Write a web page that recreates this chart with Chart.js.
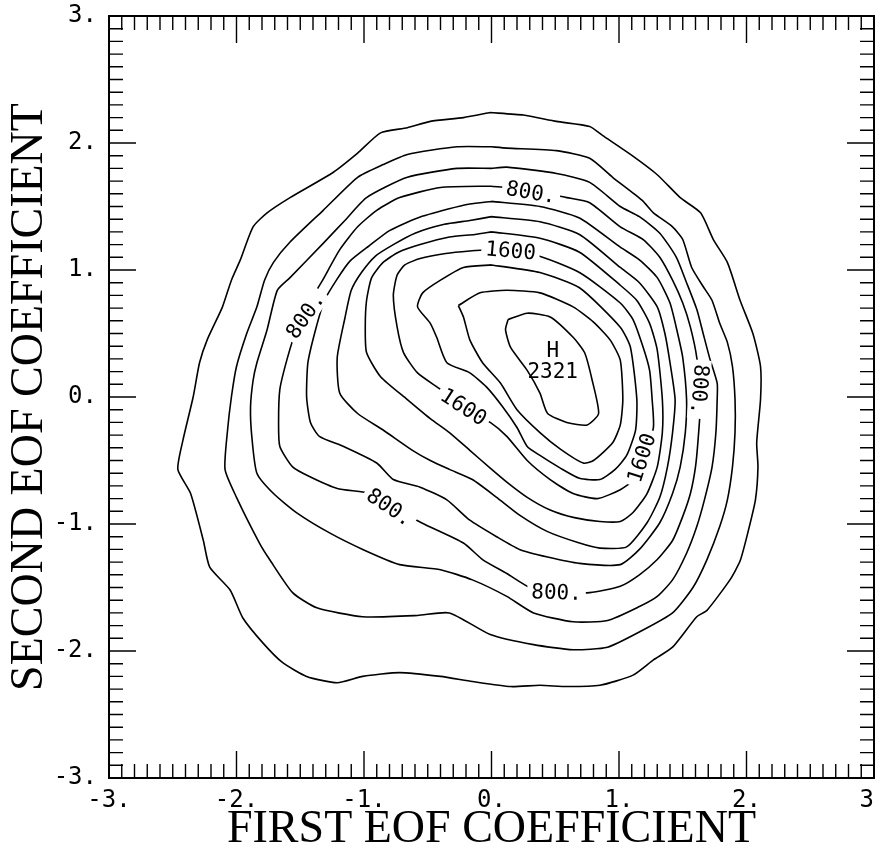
<!DOCTYPE html>
<html>
<head>
<meta charset="utf-8">
<script src="https://cdn.jsdelivr.net/npm/chart.js@4.4.0/dist/chart.umd.min.js"></script>
<style>
  body { margin: 0; background: #fff; }
</style>
</head>
<body>
<canvas id="myChart" width="876" height="861"></canvas>
<script>
// contour levels, outermost first
const levels = [200, 400, 600, 800, 1000, 1200, 1400, 1600, 1800, 2000, 2200];

// each contour is a closed ring of [first EOF, second EOF] points
const c200 = [[-0.01,2.24],[0.25,2.22],[0.51,2.17],[0.77,2.13],[0.87,2.06],[1.09,1.91],[1.30,1.75],[1.48,1.57],[1.64,1.45],[1.74,1.24],[1.85,1.06],[1.95,0.76],[2.05,0.50],[2.11,0.24],[2.11,-0.02],[2.08,-0.36],[2.09,-0.55],[2.07,-0.81],[2.01,-1.07],[1.95,-1.29],[1.87,-1.44],[1.69,-1.68],[1.61,-1.73],[1.42,-1.97],[1.27,-2.07],[1.11,-2.19],[0.85,-2.27],[0.59,-2.28],[0.38,-2.27],[0.15,-2.28],[-0.15,-2.24],[-0.40,-2.20],[-0.72,-2.17],[-1.01,-2.20],[-1.21,-2.25],[-1.45,-2.20],[-1.64,-2.09],[-1.79,-1.94],[-1.95,-1.74],[-2.05,-1.52],[-2.21,-1.34],[-2.26,-1.13],[-2.36,-0.76],[-2.46,-0.57],[-2.42,-0.34],[-2.34,0.00],[-2.29,0.27],[-2.23,0.45],[-2.11,0.71],[-2.04,0.92],[-1.97,1.08],[-1.87,1.34],[-1.76,1.45],[-1.58,1.57],[-1.24,1.77],[-1.05,1.92],[-0.87,2.08],[-0.66,2.12],[-0.48,2.17],[-0.22,2.20]];
const c400 = [[0.00,1.97],[0.12,1.96],[0.51,1.94],[0.77,1.88],[0.95,1.73],[1.18,1.55],[1.27,1.45],[1.42,1.34],[1.50,1.24],[1.57,1.02],[1.66,0.87],[1.73,0.76],[1.79,0.58],[1.85,0.43],[1.89,0.24],[1.91,-0.02],[1.91,-0.28],[1.89,-0.55],[1.85,-0.81],[1.79,-1.02],[1.69,-1.28],[1.58,-1.50],[1.42,-1.70],[1.16,-1.85],[0.91,-1.97],[0.64,-1.99],[0.33,-1.95],[-0.01,-1.87],[-0.33,-1.70],[-0.58,-1.72],[-1.01,-1.73],[-1.37,-1.66],[-1.56,-1.54],[-1.74,-1.28],[-1.82,-1.15],[-2.00,-0.79],[-2.09,-0.57],[-2.07,-0.26],[-2.04,0.00],[-2.00,0.24],[-1.92,0.50],[-1.84,0.71],[-1.78,0.92],[-1.71,1.06],[-1.58,1.22],[-1.32,1.47],[-1.05,1.73],[-0.85,1.83],[-0.66,1.91],[-0.27,1.97]];
const c600 = [[0.00,1.80],[0.12,1.81],[0.51,1.76],[0.77,1.69],[1.01,1.50],[1.16,1.42],[1.32,1.29],[1.45,1.10],[1.53,0.90],[1.61,0.69],[1.66,0.50],[1.71,0.31],[1.77,0.11],[1.77,-0.02],[1.76,-0.28],[1.73,-0.55],[1.67,-0.81],[1.61,-1.02],[1.53,-1.23],[1.42,-1.44],[1.30,-1.57],[1.16,-1.65],[0.91,-1.76],[0.64,-1.77],[0.33,-1.70],[0.12,-1.57],[-0.15,-1.44],[-0.40,-1.36],[-0.72,-1.32],[-1.01,-1.20],[-1.27,-1.07],[-1.53,-0.91],[-1.71,-0.76],[-1.84,-0.60],[-1.88,-0.31],[-1.89,-0.08],[-1.87,0.13],[-1.84,0.27],[-1.76,0.53],[-1.68,0.84],[-1.58,0.94],[-1.32,1.21],[-1.15,1.39],[-0.98,1.57],[-0.66,1.73],[-0.27,1.80]];
const c800 = [[0.00,1.66],[0.30,1.63],[0.59,1.57],[0.77,1.53],[1.01,1.34],[1.19,1.24],[1.32,1.10],[1.42,0.92],[1.50,0.74],[1.56,0.55],[1.61,0.31],[1.64,-0.02],[1.62,-0.34],[1.60,-0.55],[1.56,-0.76],[1.50,-0.94],[1.42,-1.13],[1.30,-1.28],[1.16,-1.40],[1.01,-1.49],[0.77,-1.54],[0.50,-1.54],[0.30,-1.50],[0.12,-1.39],[-0.07,-1.28],[-0.22,-1.15],[-0.55,-0.99],[-0.80,-0.85],[-0.95,-0.76],[-1.21,-0.72],[-1.42,-0.63],[-1.56,-0.55],[-1.66,-0.39],[-1.67,-0.20],[-1.66,0.06],[-1.60,0.31],[-1.53,0.53],[-1.42,0.76],[-1.33,0.91],[-1.19,1.16],[-1.05,1.34],[-0.90,1.47],[-0.72,1.57],[-0.40,1.65]];
const c1000 = [[0.00,1.54],[0.38,1.50],[0.69,1.41],[1.01,1.18],[1.16,1.08],[1.30,0.94],[1.40,0.74],[1.46,0.50],[1.50,0.31],[1.53,-0.02],[1.52,-0.28],[1.48,-0.55],[1.42,-0.76],[1.32,-0.99],[1.16,-1.20],[1.01,-1.32],[0.69,-1.31],[0.44,-1.26],[0.22,-1.20],[0.04,-1.10],[-0.17,-0.97],[-0.35,-0.81],[-0.56,-0.71],[-0.77,-0.65],[-0.90,-0.52],[-1.16,-0.39],[-1.35,-0.31],[-1.42,-0.20],[-1.45,0.00],[-1.44,0.27],[-1.38,0.53],[-1.31,0.76],[-1.21,0.93],[-1.11,1.07],[-0.96,1.19],[-0.80,1.31],[-0.58,1.41],[-0.34,1.48],[-0.17,1.52]];
const c1200 = [[0.00,1.42],[0.38,1.38],[0.69,1.28],[1.01,1.02],[1.16,0.90],[1.30,0.71],[1.36,0.50],[1.40,0.27],[1.44,-0.02],[1.42,-0.28],[1.38,-0.55],[1.32,-0.79],[1.22,-0.99],[1.06,-1.18],[0.85,-1.19],[0.69,-1.15],[0.44,-1.06],[0.22,-0.93],[0.04,-0.79],[-0.15,-0.65],[-0.33,-0.57],[-0.48,-0.50],[-0.62,-0.42],[-0.85,-0.26],[-1.05,-0.13],[-1.19,0.03],[-1.21,0.31],[-1.15,0.62],[-1.10,0.84],[-1.02,0.98],[-0.91,1.11],[-0.77,1.20],[-0.60,1.29],[-0.37,1.36],[-0.17,1.39]];
const c1400 = [[0.00,1.30],[0.38,1.25],[0.69,1.14],[1.01,0.88],[1.14,0.76],[1.24,0.58],[1.30,0.37],[1.34,-0.02],[1.34,-0.28],[1.30,-0.55],[1.22,-0.76],[1.11,-0.91],[1.01,-0.98],[0.85,-0.98],[0.65,-0.95],[0.46,-0.89],[0.28,-0.79],[0.12,-0.67],[-0.01,-0.56],[-0.17,-0.42],[-0.33,-0.28],[-0.48,-0.17],[-0.66,-0.02],[-0.87,0.16],[-0.98,0.35],[-0.99,0.55],[-0.98,0.76],[-0.94,0.94],[-0.85,1.06],[-0.73,1.14],[-0.56,1.20],[-0.33,1.26],[-0.13,1.28]];
const c1600 = [[0.00,1.16],[0.34,1.12],[0.69,0.98],[1.01,0.74],[1.11,0.61],[1.19,0.39],[1.24,0.21],[1.26,-0.02],[1.27,-0.24],[1.20,-0.46],[1.13,-0.64],[1.01,-0.73],[0.83,-0.80],[0.64,-0.76],[0.46,-0.65],[0.28,-0.50],[0.12,-0.31],[-0.01,-0.20],[-0.21,-0.09],[-0.40,0.06],[-0.58,0.19],[-0.69,0.35],[-0.74,0.55],[-0.77,0.80],[-0.74,0.96],[-0.68,1.04],[-0.56,1.09],[-0.36,1.13],[-0.17,1.15]];
const c1800 = [[0.00,1.04],[0.38,0.98],[0.69,0.86],[1.01,0.55],[1.09,0.39],[1.14,-0.02],[1.13,-0.26],[1.06,-0.46],[0.97,-0.57],[0.85,-0.65],[0.69,-0.64],[0.54,-0.56],[0.38,-0.46],[0.28,-0.39],[0.20,-0.24],[0.09,-0.08],[-0.04,0.08],[-0.17,0.19],[-0.35,0.27],[-0.43,0.47],[-0.48,0.58],[-0.58,0.71],[-0.54,0.82],[-0.40,0.92],[-0.22,1.02]];
const c2000 = [[-0.26,0.72],[-0.22,0.63],[-0.17,0.45],[-0.07,0.27],[0.07,0.11],[0.20,-0.10],[0.38,-0.28],[0.54,-0.41],[0.72,-0.52],[0.80,-0.50],[0.95,-0.36],[1.01,-0.22],[1.03,-0.02],[1.01,0.29],[0.93,0.45],[0.80,0.59],[0.64,0.71],[0.38,0.82],[0.12,0.84],[-0.09,0.82]];
const c2200 = [[0.13,0.61],[0.28,0.66],[0.46,0.63],[0.64,0.47],[0.73,0.35],[0.79,0.13],[0.84,-0.13],[0.75,-0.22],[0.59,-0.20],[0.44,-0.13],[0.38,0.03],[0.28,0.21],[0.15,0.39],[0.11,0.53]];
const contours = [c200, c400, c600, c800, c1000, c1200, c1400, c1600, c1800, c2000, c2200];

const tickValues = [-3, -2, -1, 0, 1, 2, 3];

// in-line contour labels (data position, angle in degrees)
const contourLabels = [
    { text: '800.', x: 0.31, y: 1.61, angle: 10 },
    { text: '800.', x: -1.46, y: 0.64, angle: -55 },
    { text: '800.', x: -0.80, y: -0.87, angle: 34 },
    { text: '800.', x: 0.51, y: -1.54, angle: 2 },
    { text: '800.', x: 1.63, y: 0.06, angle: 95 },
    { text: '1600', x: 0.15, y: 1.15, angle: 5 },
    { text: '1600', x: -0.22, y: -0.08, angle: 33 },
    { text: '1600', x: 1.18, y: -0.48, angle: -72 }
];
const peakLabels = [
    { text: 'H', x: 0.48, y: 0.36 },
    { text: '2321', x: 0.48, y: 0.19 }
];

const labelFont = '21px "DejaVu Sans Mono"';

const frameAndLabels = {
    id: 'frameAndLabels',
    afterDatasetsDraw(chart) {
        const {ctx, chartArea: a, scales: {x, y}} = chart;
        ctx.save();
        ctx.font = labelFont;
        ctx.textAlign = 'center';
        ctx.textBaseline = 'middle';
        contourLabels.forEach(l => {
            const w = ctx.measureText(l.text).width;
            ctx.save();
            ctx.translate(x.getPixelForValue(l.x), y.getPixelForValue(l.y));
            ctx.rotate(l.angle * Math.PI / 180);
            ctx.fillStyle = '#fff';
            ctx.fillRect(-w / 2 - 4, -10, w + 8, 20);
            ctx.fillStyle = '#000';
            ctx.fillText(l.text, 0, 1);
            ctx.restore();
        });
        ctx.fillStyle = '#000';
        peakLabels.forEach(l => {
            ctx.fillText(l.text, x.getPixelForValue(l.x), y.getPixelForValue(l.y));
        });

        // frame with inward ticks every 0.1
        ctx.strokeStyle = '#000';
        ctx.lineWidth = 2;
        ctx.strokeRect(a.left, a.top, a.right - a.left, a.bottom - a.top);
        ctx.lineWidth = 1.4;
        ctx.beginPath();
        for (let i = -30; i <= 30; i++) {
            const len = i % 10 === 0 ? 27 : 14;
            const px = x.getPixelForValue(i / 10);
            const py = y.getPixelForValue(i / 10);
            ctx.moveTo(px, a.bottom); ctx.lineTo(px, a.bottom - len);
            ctx.moveTo(px, a.top); ctx.lineTo(px, a.top + len);
            ctx.moveTo(a.left, py); ctx.lineTo(a.left + len, py);
            ctx.moveTo(a.right, py); ctx.lineTo(a.right - len, py);
        }
        ctx.stroke();
        ctx.restore();
    }
};

const tickFont = { family: 'DejaVu Sans Mono', size: 24 };
const titleFont = { family: 'Liberation Serif', size: 46 };

const config = {
    type: 'scatter',
    data: {
        datasets: contours.map((pts, i) => ({
            label: String(levels[i]),
            data: pts.concat([pts[0]]).map(p => ({ x: p[0], y: p[1] })),
            showLine: true,
            tension: 0.2,
            borderColor: '#000',
            borderWidth: 1.6,
            pointRadius: 0,
            fill: false
        }))
    },
    options: {
        responsive: false,
        animation: false,
        devicePixelRatio: 1,
        layout: { padding: { top: 16, right: 2, left: 0, bottom: 0 } },
        plugins: { legend: { display: false }, tooltip: { enabled: false } },
        scales: {
            x: {
                type: 'linear', min: -3, max: 3,
                afterBuildTicks: s => { s.ticks = tickValues.map(v => ({ value: v })); },
                grid: { display: false, drawTicks: false },
                border: { display: false },
                ticks: { callback: v => v + '.', font: tickFont, color: '#000', padding: 8, maxRotation: 0, autoSkip: false },
                title: { display: true, text: 'FIRST EOF COEFFICIENT', font: titleFont, color: '#000', padding: { top: 0, bottom: 3 } },
                afterFit(s) { s.height = 83; s.paddingLeft = 0; s.paddingRight = 0; }
            },
            y: {
                type: 'linear', min: -3, max: 3,
                afterBuildTicks: s => { s.ticks = tickValues.map(v => ({ value: v })); },
                grid: { display: false, drawTicks: false },
                border: { display: false },
                ticks: { callback: v => v + '.', font: tickFont, color: '#000', padding: 12, autoSkip: false },
                title: { display: true, text: 'SECOND EOF COEFFICIENT', font: titleFont, color: '#000', padding: { top: 2, bottom: 0 } },
                afterFit(s) { s.width = 109; s.paddingTop = 0; s.paddingBottom = 0; }
            }
        }
    },
    plugins: [frameAndLabels]
};

const myChart = new Chart(document.getElementById('myChart'), config);
</script>
</body>
</html>
